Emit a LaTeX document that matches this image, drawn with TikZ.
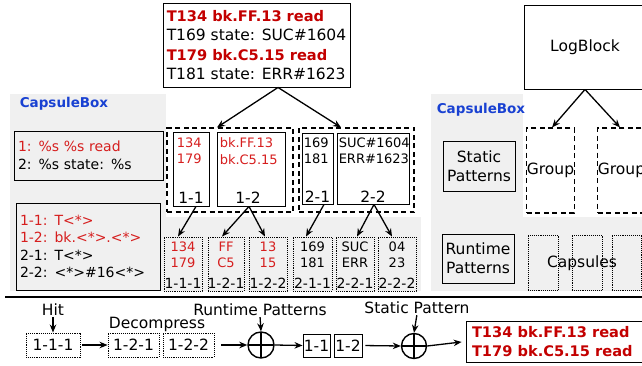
\documentclass[tikz,border=0pt]{standalone}
\usepackage{fontspec}
\setmainfont{DejaVu Sans}
\usetikzlibrary{arrows.meta}
\definecolor{bgrey}{RGB}{240,240,240}
\definecolor{tred}{RGB}{195,0,0}
\definecolor{lred}{RGB}{214,30,30}
\definecolor{cbblue}{RGB}{25,65,210}
\newcommand{\bred}[1]{\textcolor{tred}{\fontsize{14.6}{19.3}\selectfont\bfseries #1}}
\tikzset{
  box/.style={draw, line width=0.9pt, inner sep=0pt, rectangle},
  grpbox/.style={draw, dash pattern=on 5pt off 3.5pt, line width=1.1pt, inner sep=0pt, rectangle},
  capbox/.style={draw, densely dotted, line width=0.9pt, inner sep=0pt, rectangle},
  arr/.style={-{Stealth[length=8pt,width=6.5pt]}, line width=1.3pt},
  oplus/.style={circle, draw, line width=1.4pt, inner sep=0pt,
    path picture={\draw[line width=1.4pt] (path picture bounding box.north) -- (path picture bounding box.south)
      (path picture bounding box.west) -- (path picture bounding box.east);}},
  fbig/.style={font=\fontsize{15.5}{19.3}\selectfont},
  fmid/.style={font=\fontsize{14}{17.5}\selectfont},
  fsmall/.style={font=\fontsize{13}{16.5}\selectfont},
  flab/.style={font=\fontsize{14}{16}\selectfont},
  cbtitle/.style={font=\fontsize{13.5}{16}\selectfont\bfseries, text=cbblue, inner sep=0pt},
  txt/.style={inner sep=0pt},
}
\begin{document}
\begin{tikzpicture}[x=1pt,y=-1pt]
\useasboundingbox (0,0) rectangle (642,366);
\clip (0,0) rectangle (642,366);

% grey panels
\fill[bgrey] (10,94) rectangle (166,291);
\fill[bgrey] (166,217) rectangle (421,291);
\fill[bgrey] (431,94) rectangle (523,291);
\fill[bgrey] (523,217) rectangle (642,291);

% top log text
\node[box, fbig, align=left, minimum width=187pt, minimum height=84pt] (top) at (256.5,45)
  {\bred{T134 bk.FF.13 read}\\T169 state: SUC\#1604\\\bred{T179 bk.C5.15 read}\\T181 state: ERR\#1623};

\node[box, fbig, minimum width=122pt, minimum height=84pt] (logblock) at (585,47) {LogBlock};

% left capsule box
\node[cbtitle] (cb1) at (64,104) {CapsuleBox};
\node[box, fmid, align=left, inner xsep=4pt, text width=141pt, minimum height=49pt] (pat) at (88.5,155.5)
  {\textcolor{lred}{1: \%s \%s read}\\2: \%s state: \%s};
\node[box, fmid, align=left, inner xsep=4pt, text width=136pt, minimum height=87pt] (tmpl) at (88,246.5)
  {\textcolor{lred}{1-1: T<*>}\\\textcolor{lred}{1-2: bk.<*>.<*>}\\2-1: T<*>\\2-2: <*>\#16<*>};

% groups
\node[grpbox, minimum width=126pt, minimum height=84pt] (g1) at (230,170) {};
\node[grpbox, minimum width=115pt, minimum height=84pt] (g2) at (356.5,170) {};

\node[box, minimum width=36pt, minimum height=74pt] (b11) at (191,169) {};
\node[box, minimum width=68pt, minimum height=74pt] (b12) at (251,169) {};
\node[box, minimum width=31pt, minimum height=71pt] (b21) at (317.5,168.5) {};
\node[box, minimum width=72pt, minimum height=71pt] (b22) at (373,168.5) {};

\node[txt, fsmall, align=left, text=lred, anchor=north west] (t11) at ([xshift=4pt,yshift=-6pt]b11.north west) {134\\179};
\node[txt, fsmall, align=left, text=lred, anchor=north west] (t12) at ([xshift=3pt,yshift=-6pt]b12.north west) {bk.FF.13\\bk.C5.15};
\node[txt, fsmall, align=left, anchor=north west] (t21) at ([xshift=2pt,yshift=-5pt]b21.north west) {169\\181};
\node[txt, fsmall, align=left, anchor=north west] (t22) at ([xshift=2pt,yshift=-5pt]b22.north west) {SUC\#1604\\ERR\#1623};

\node[txt, fbig] (l11) at ([yshift=9pt]b11.south) {1-1};
\node[txt, fbig] (l12) at ([xshift=-3pt,yshift=9pt]b12.south) {1-2};
\node[txt, fbig] (l21) at ([yshift=7.5pt]b21.south) {2-1};
\node[txt, fbig] (l22) at ([yshift=8pt]b22.south) {2-2};

% capsules row
\node[capbox, minimum width=38pt, minimum height=54pt] (c111) at (183,264) {};
\node[capbox, minimum width=36pt, minimum height=54pt] (c121) at (226,264) {};
\node[capbox, minimum width=38pt, minimum height=54pt] (c122) at (268,264) {};
\node[capbox, minimum width=39pt, minimum height=54pt] (c211) at (312.5,264) {};
\node[capbox, minimum width=38pt, minimum height=54pt] (c221) at (355,264) {};
\node[capbox, minimum width=38pt, minimum height=54pt] (c222) at (397,264) {};

\node[txt, fsmall, align=center, text=lred, anchor=north] (s111) at ([yshift=-5pt]c111.north) {134\\179};
\node[txt, fsmall, align=center, text=lred, anchor=north] (s121) at ([yshift=-5pt]c121.north) {FF\\C5};
\node[txt, fsmall, align=center, text=lred, anchor=north] (s122) at ([yshift=-5pt]c122.north) {13\\15};
\node[txt, fsmall, align=center, anchor=north] (s211) at ([yshift=-5pt]c211.north) {169\\181};
\node[txt, fsmall, align=center, anchor=north] (s221) at ([yshift=-5pt]c221.north) {SUC\\ERR};
\node[txt, fsmall, align=center, anchor=north] (s222) at ([yshift=-5pt]c222.north) {04\\23};

\node[txt, flab] (k111) at ([yshift=8pt]c111.south) {1-1-1};
\node[txt, flab] (k121) at ([yshift=8pt]c121.south) {1-2-1};
\node[txt, flab] (k122) at ([yshift=8pt]c122.south) {1-2-2};
\node[txt, flab] (k211) at ([yshift=8pt]c211.south) {2-1-1};
\node[txt, flab] (k221) at ([yshift=8pt]c221.south) {2-2-1};
\node[txt, flab] (k222) at ([yshift=8pt]c222.south) {2-2-2};

% arrows left
\draw[arr] ([xshift=21.5pt]top.south) -- ([xshift=-13pt]g1.north);
\draw[arr] ([xshift=21.5pt]top.south) -- ([xshift=-15.5pt]g2.north);
\draw[arr] ([xshift=5pt]b11.south) -- ([xshift=-5pt]c111.north);
\draw[arr] ([xshift=-2pt]b12.south) -- ([xshift=-4pt]c121.north);
\draw[arr] ([xshift=-2pt]b12.south) -- ([xshift=-3pt]c122.north);
\draw[arr] ([xshift=6.5pt]b21.south) -- ([xshift=-6.5pt]c211.north);
\draw[arr] ([xshift=1pt]b22.south) -- ([xshift=2pt]c221.north);
\draw[arr] ([xshift=1pt]b22.south) -- ([xshift=-5pt]c222.north);

% right capsule box
\node[cbtitle] (cb2) at (481,110) {CapsuleBox};
\node[box, fbig, align=center, minimum width=72pt, minimum height=50pt] (static) at (479,166) {Static\\Patterns};
\node[box, fbig, align=center, minimum width=72pt, minimum height=49pt] (runtime) at (478,258.5) {Runtime\\Patterns};
\node[grpbox, fbig, minimum width=47pt, minimum height=85pt] (grp1) at (550.5,170.5) {Group};
\node[grpbox, fbig, minimum width=47pt, minimum height=85pt] (grp2) at (621.5,170.5) {Group};
\node[capbox, minimum width=30pt, minimum height=55pt] (cap1) at (543,262.5) {};
\node[capbox, minimum width=30pt, minimum height=55pt] (cap2) at (587,262.5) {};
\node[capbox, minimum width=29pt, minimum height=55pt] (cap3) at (626.5,262.5) {};
\node[txt, fbig] (capsules) at (582,263) {Capsules};
\draw[arr] (logblock.south) -- ([xshift=1.5pt]grp1.north);
\draw[arr] (logblock.south) -- ([xshift=-1.5pt]grp2.north);

% separator
\coordinate (sepL) at (5,297);
\coordinate (sepR) at (642,297);
\draw[line width=2.6pt] (sepL) -- (sepR);

% bottom flow
\node[txt, fbig] (hit) at (53,310) {Hit};
\node[capbox, fbig, minimum width=54pt, minimum height=24pt] (h111) at (53,345) {1-1-1};
\node[txt, fbig] (dec) at (157,324) {Decompress};
\node[capbox, fbig, minimum width=51pt, minimum height=24pt] (d121) at (133.5,345) {1-2-1};
\node[capbox, fbig, minimum width=51pt, minimum height=24pt] (d122) at (188.5,345) {1-2-2};
\node[oplus, minimum size=26pt] (o1) at (261,345) {};
\node[txt, fbig] (rtp) at (260,310) {Runtime Patterns};
\node[box, fbig, minimum width=27pt, minimum height=23pt] (p11) at (316.5,345.5) {1-1};
\node[box, fbig, minimum width=28pt, minimum height=23pt] (p12) at (348,345.5) {1-2};
\node[oplus, minimum size=25pt] (o2) at (414,346) {};
\node[txt, fbig] (stp) at (417,308) {Static Pattern};
\node[box, fbig, align=left, inner xsep=6pt, text width=172pt, minimum height=41pt] (res) at (558,341.5)
  {\bred{T134 bk.FF.13 read}\\\bred{T179 bk.C5.15 read}};

\draw[arr, shorten <=1pt] (hit.south) -- (h111.north);
\draw[arr, shorten <=2pt] (h111.east) -- (d121.west);
\draw[arr, shorten <=7pt] (d122.east) -- (o1.west);
\draw[arr, shorten <=1pt] (rtp.south) -- (o1.north);
\draw[arr] (o1.east) -- (p11.west);
\draw[arr, shorten <=3pt] (p12.east) -- (o2.west);
\draw[arr, shorten <=1pt] (stp.south) -- (o2.north);
\draw[arr, shorten >=4pt] (o2.east) -- (res.west);
\end{tikzpicture}
\end{document}
